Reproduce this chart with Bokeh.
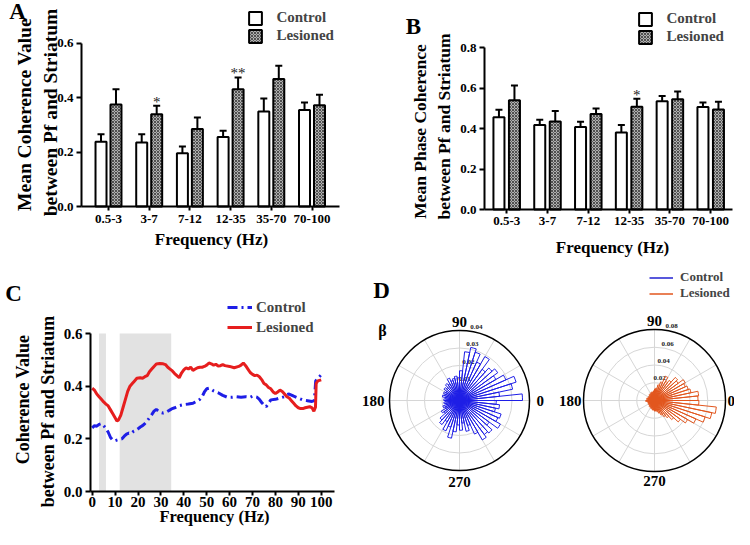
import numpy as np
from bokeh.plotting import figure
from bokeh.models import (Range1d, FixedTicker, Label, Legend, LegendItem,
                          Whisker, TeeHead, ColumnDataSource, NumeralTickFormatter)
from bokeh.layouts import row, column
from bokeh.embed import file_html
from bokeh.resources import INLINE
from bokeh.core.properties import value

SERIF = "Liberation Serif"

# ---------------- data ----------------
bands = ["0.5-3", "3-7", "7-12", "12-35", "35-70", "70-100"]

a_control = [0.238, 0.236, 0.196, 0.256, 0.350, 0.355]
a_control_sem = [0.028, 0.030, 0.025, 0.023, 0.048, 0.028]
a_lesioned = [0.375, 0.340, 0.285, 0.432, 0.469, 0.373]
a_lesioned_sem = [0.057, 0.031, 0.043, 0.043, 0.049, 0.038]
a_sig = ["", "*", "", "**", "", ""]
a_yticks = [0.0, 0.2, 0.4, 0.6]

b_control = [0.455, 0.417, 0.407, 0.380, 0.534, 0.506]
b_control_sem = [0.038, 0.026, 0.026, 0.037, 0.026, 0.023]
b_lesioned = [0.539, 0.435, 0.471, 0.507, 0.544, 0.494]
b_lesioned_sem = [0.073, 0.051, 0.028, 0.040, 0.039, 0.038]
b_sig = ["", "", "", "*", "", ""]
b_yticks = [0.0, 0.2, 0.4, 0.6, 0.8]

c_freq_control = [0, 1, 2, 3, 4, 5, 6, 7, 8, 9, 10, 11, 12, 13, 14, 15, 16, 17, 18, 19,
                  20, 21, 22, 23, 24, 25, 26, 27, 28, 29, 30, 31, 32, 33, 34, 35, 36, 37,
                  38, 40, 42, 44, 45, 46, 47, 48, 49, 50, 51, 52, 53, 55, 57, 59, 61, 63,
                  65, 67, 69, 70, 72, 73, 74, 75, 76, 77, 78, 80, 82, 84, 85, 86, 88, 90,
                  92, 94, 96, 97, 97.6, 98.5, 100]
c_control = [0.242, 0.250, 0.248, 0.255, 0.258, 0.250, 0.240, 0.225, 0.205, 0.195, 0.193,
             0.196, 0.198, 0.200, 0.210, 0.218, 0.222, 0.220, 0.228, 0.232, 0.238, 0.245,
             0.250, 0.258, 0.268, 0.280, 0.292, 0.305, 0.312, 0.305, 0.300, 0.298, 0.300,
             0.305, 0.310, 0.315, 0.318, 0.322, 0.326, 0.330, 0.332, 0.335, 0.340, 0.345,
             0.350, 0.360, 0.378, 0.390, 0.392, 0.388, 0.382, 0.375, 0.365, 0.358, 0.358,
             0.360, 0.358, 0.360, 0.358, 0.362, 0.358, 0.350, 0.338, 0.328, 0.322, 0.335,
             0.348, 0.350, 0.355, 0.360, 0.368, 0.370, 0.362, 0.355, 0.348, 0.345, 0.342,
             0.345, 0.420, 0.430, 0.443]

c_freq_lesioned = [0, 1, 2, 3, 4, 5, 6, 7, 8, 9, 10, 10.8, 11.5, 12.5, 13.5, 14.5, 15.5,
                   16.5, 17.5, 18.5, 19.5, 21, 22, 23, 24, 25, 26, 27, 28, 29.5, 31, 32,
                   33, 34, 35, 36, 37, 38, 39, 40, 41, 42, 43, 44, 45, 46, 47, 48, 49, 50,
                   51, 52, 53, 54, 55, 56, 57, 58, 60, 62, 64, 65, 66, 67, 68, 69, 70, 71,
                   72, 73, 74, 75, 76, 77, 78, 79, 80, 81, 82, 83, 84, 85, 86, 87, 88, 89,
                   90, 91, 92, 93, 94, 95, 96, 96.8, 97.5, 97.8, 98.5, 100]
c_lesioned = [0.392, 0.385, 0.370, 0.360, 0.350, 0.340, 0.332, 0.325, 0.310, 0.295, 0.280,
              0.268, 0.272, 0.290, 0.320, 0.350, 0.380, 0.400, 0.410, 0.420, 0.430, 0.432,
              0.430, 0.436, 0.440, 0.455, 0.465, 0.475, 0.484, 0.486, 0.485, 0.482, 0.472,
              0.465, 0.458, 0.448, 0.440, 0.432, 0.450, 0.462, 0.470, 0.465, 0.472, 0.460,
              0.465, 0.470, 0.472, 0.472, 0.475, 0.480, 0.488, 0.485, 0.480, 0.483, 0.477,
              0.478, 0.482, 0.478, 0.475, 0.470, 0.475, 0.480, 0.488, 0.478, 0.465, 0.452,
              0.445, 0.440, 0.442, 0.436, 0.425, 0.410, 0.405, 0.395, 0.390, 0.378, 0.372,
              0.378, 0.385, 0.380, 0.370, 0.360, 0.355, 0.345, 0.335, 0.325, 0.318, 0.315,
              0.315, 0.318, 0.320, 0.322, 0.318, 0.305, 0.320, 0.410, 0.420, 0.424]
c_shade_start = [3, 12]
c_shade_end = [6, 34.5]
c_yticks = [0.0, 0.2, 0.4, 0.6]
c_xticks = [0, 10, 20, 30, 40, 50, 60, 70, 80, 90, 100]

# polar histograms: 60 bins of 6 degrees, starting at 0 deg, counter-clockwise
d_control = [0.036, 0.023, 0.031, 0.034, 0.029, 0.024, 0.027, 0.025, 0.022, 0.029,
             0.024, 0.029, 0.031, 0.028, 0.017, 0.013, 0.014, 0.013, 0.012, 0.014,
             0.011, 0.012, 0.010, 0.011, 0.009, 0.010, 0.009, 0.010, 0.008, 0.009,
             0.008, 0.009, 0.008, 0.010, 0.009, 0.012, 0.011, 0.015, 0.017, 0.014,
             0.019, 0.016, 0.022, 0.018, 0.014, 0.017, 0.013, 0.018, 0.015, 0.021,
             0.026, 0.024, 0.025, 0.021, 0.027, 0.024, 0.025, 0.021, 0.023, 0.021]
d_lesioned = [0.049, 0.050, 0.042, 0.040, 0.038, 0.040, 0.033, 0.035, 0.028, 0.025,
              0.030, 0.022, 0.018, 0.014, 0.013, 0.011, 0.010, 0.009, 0.010, 0.009,
              0.008, 0.009, 0.008, 0.007, 0.008, 0.007, 0.008, 0.009, 0.007, 0.009,
              0.010, 0.008, 0.007, 0.008, 0.007, 0.008, 0.007, 0.008, 0.009, 0.008,
              0.009, 0.010, 0.009, 0.011, 0.010, 0.012, 0.011, 0.013, 0.015, 0.018,
              0.021, 0.024, 0.029, 0.036, 0.043, 0.051, 0.060, 0.066, 0.070, 0.050]
d_control_rings = [0.01, 0.02, 0.03, 0.04]
d_lesioned_rings = [0.02, 0.04, 0.06, 0.08]
d_angle_labels = ["0", "90", "180", "270"]

BLUE = "#1e1ee6"
RED = "#e61e1e"
ORANGE = "#e2561e"


class Geo:
    """Figure whose frame is the whole canvas; maps reference-pixel positions to data."""

    def __init__(self, ox, oy, W, H, xa, Xa, sx, ya, Ya, sy):
        self.ox, self.oy, self.W, self.H = ox, oy, W, H
        self.xa, self.Xa, self.sx = xa, Xa, sx
        self.ya, self.Ya, self.sy = ya, Ya, sy
        self.x0 = xa + (ox - Xa) / sx
        self.x1 = self.x0 + W / sx
        self.y0 = ya - (oy + H - Ya) / sy
        self.y1 = self.y0 + H / sy

    def fig(self):
        p = figure(width=self.W, height=self.H, output_backend="svg", toolbar_location=None,
                   x_range=Range1d(self.x0, self.x1), y_range=Range1d(self.y0, self.y1),
                   min_border_left=0, min_border_right=0, min_border_top=0,
                   min_border_bottom=0)
        p.outline_line_color = None
        p.xgrid.visible = False
        p.ygrid.visible = False
        return p

    def dx(self, X):
        return self.xa + (X - self.Xa) / self.sx

    def dy(self, Y):
        return self.ya + (self.Ya - Y) / self.sy

    def loc(self, X, Y):
        return (X - self.ox, self.oy + self.H - Y)


def text(p, g, X, Y, s, size, angle=0.0, align="center", baseline="middle", style="bold"):
    p.add_layout(Label(x=g.dx(X), y=g.dy(Y), text=s, text_font=SERIF,
                       text_font_size=f"{size}px", text_font_style=style, angle=angle,
                       text_align=align, text_baseline=baseline, text_color="black"))


def style_axis(ax, size, standoff, tick_out=5):
    ax.axis_line_width = 2
    ax.axis_line_color = "black"
    ax.major_tick_line_width = 2
    ax.major_tick_out = tick_out
    ax.major_tick_in = 0
    ax.minor_tick_out = 0
    ax.minor_tick_in = 0
    ax.major_label_text_font = SERIF
    ax.major_label_text_font_style = "bold"
    ax.major_label_text_font_size = f"{size}px"
    ax.major_label_text_color = "black"
    ax.major_label_standoff = standoff


def setup_axes(p, g, yticks, yaxis_X, xticks, xend_X, tick_size, xstand, ystand,
               overrides=None):
    yax = p.yaxis[0]
    yax.fixed_location = g.dx(yaxis_X)
    yax.ticker = FixedTicker(ticks=yticks)
    yax.bounds = (yticks[0], yticks[-1])
    yax.formatter = NumeralTickFormatter(format="0.0")
    style_axis(yax, tick_size, ystand)
    xax = p.xaxis[0]
    xax.fixed_location = yticks[0]
    xax.ticker = FixedTicker(ticks=xticks)
    if overrides:
        xax.major_label_overrides = overrides
    xax.bounds = (g.dx(yaxis_X), g.dx(xend_X))
    style_axis(xax, tick_size, xstand, tick_out=4)


def bar_panel(g, ctrl, ctrl_sem, les, les_sem, sig, yticks, off, bw, yaxis_X, xend_X,
              legend_xy, tick_size, xstand, ystand):
    p = g.fig()
    idx = np.arange(len(bands))
    src = ColumnDataSource(dict(
        xc=idx - off, xl=idx + off, c=ctrl, l=les,
        cu=np.add(ctrl, ctrl_sem), lu=np.add(les, les_sem), sig=sig))
    rc = p.vbar(x="xc", top="c", width=bw, bottom=0, source=src, fill_color="white",
                line_color="black", line_width=2)
    rl = p.vbar(x="xl", top="l", width=bw, bottom=0, source=src, fill_color="#b0b0b0",
                hatch_pattern="diagonal_cross", hatch_color="#505050", hatch_scale=3,
                hatch_weight=1, line_color="black", line_width=2)
    for base, lo, up in (("xc", "c", "cu"), ("xl", "l", "lu")):
        p.add_layout(Whisker(source=src, base=base, lower=lo, upper=up, dimension="height",
                             line_width=2, line_color="black",
                             upper_head=TeeHead(size=7, line_width=2, line_color="black"),
                             lower_head=None))
    p.text(x="xl", y="lu", text="sig", source=src, text_font=value(SERIF),
           text_font_size="15px", text_align="center", text_baseline="middle",
           y_offset=-4, text_color="#222222")
    setup_axes(p, g, yticks, yaxis_X, list(idx), xend_X, tick_size, xstand, ystand,
               overrides={int(i): b for i, b in enumerate(bands)})
    leg = Legend(items=[LegendItem(label="Control", renderers=[rc]),
                        LegendItem(label="Lesioned", renderers=[rl])],
                 location=legend_xy, glyph_width=16, glyph_height=16, label_height=16,
                 label_standoff=13, spacing=1, padding=0, margin=0,
                 border_line_color=None, background_fill_alpha=0,
                 label_text_font=SERIF, label_text_font_style="bold",
                 label_text_font_size="15px")
    p.add_layout(leg)
    return p


# ---------------- Panel A ----------------
gA = Geo(1, 1, 364, 260, 0, 109, 40.7, 0, 207, 271.67)
pA = bar_panel(gA, a_control, a_control_sem, a_lesioned, a_lesioned_sem, a_sig, a_yticks,
               0.184, 0.27, 82, 340, gA.loc(248.4, 45.4), 13, 4, 3)
text(pA, gA, 18, 12, "A", 23)
text(pA, gA, 25, 115, "Mean Coherence Value", 19.5, angle=np.pi / 2)
text(pA, gA, 51, 113, "between Pf and Striatum", 19.5, angle=np.pi / 2)
text(pA, gA, 212, 240, "Frequency (Hz)", 17)

# ---------------- Panel B ----------------
gB = Geo(365, 1, 370, 260, 0, 507.2, 40.8, 0, 210, 202.5)
pB = bar_panel(gB, b_control, b_control_sem, b_lesioned, b_lesioned_sem, b_sig, b_yticks,
               0.19, 0.27, 485, 733, gB.loc(638.4, 46.4), 13, 3, 3)
text(pB, gB, 414, 27, "B", 23)
text(pB, gB, 420, 132, "Mean Phase Coherence", 17.5, angle=np.pi / 2)
text(pB, gB, 444, 127, "between Pf and Striatum", 17.5, angle=np.pi / 2)
text(pB, gB, 613, 248, "Frequency (Hz)", 17)

# ---------------- Panel C ----------------
gC = Geo(1, 261, 347, 269, 0, 92.7, 2.29, 0, 492, 263.3)
pC = gC.fig()
pC.quad(left=c_shade_start, right=c_shade_end, bottom=c_yticks[0], top=c_yticks[-1],
        fill_color="#e2e2e2", line_color=None)
rcC = pC.line(c_freq_control, c_control, line_color=BLUE, line_width=3, line_dash="10 4 2 4")
rlC = pC.line(c_freq_lesioned, c_lesioned, line_color=RED, line_width=3)
setup_axes(pC, gC, c_yticks, 91, c_xticks, 335, 15, 1, 3)
pC.add_layout(Legend(items=[LegendItem(label="Control", renderers=[rcC]),
                            LegendItem(label="Lesioned", renderers=[rlC])],
                     location=gC.loc(228, 337), glyph_width=25, glyph_height=18,
                     label_height=18, label_standoff=4, spacing=2, padding=0, margin=0,
                     border_line_color=None, background_fill_alpha=0,
                     label_text_font=SERIF, label_text_font_style="bold",
                     label_text_font_size="15px"))
text(pC, gC, 14, 294, "C", 23)
text(pC, gC, 23, 400, "Coherence Value", 18, angle=np.pi / 2)
text(pC, gC, 48, 412, "between Pf and Striatum", 18, angle=np.pi / 2)
text(pC, gC, 215, 517, "Frequency (Hz)", 16.5)


# ---------------- Panel D ----------------
def polar(g, hist, rings, color, pad_px, lbl_pads):
    p = g.fig()
    p.xaxis.visible = False
    p.yaxis.visible = False
    R = rings[-1]
    n = len(hist)
    a0 = np.deg2rad(np.arange(n) * 360.0 / n)
    a1 = a0 + 2 * np.pi / n
    # grid
    p.circle(x=0, y=0, radius=rings[:-1], fill_color=None, line_color="#d6d6d6", line_width=1)
    sp = np.deg2rad(np.arange(0, 360, 30))
    p.segment(x0=0, y0=0, x1=R * np.cos(sp), y1=R * np.sin(sp), line_color="#d6d6d6",
              line_width=1)
    # radial labels
    th = np.deg2rad(77)
    rr = np.array(rings) + pad_px / g.sx
    p.text(x=rr * np.cos(th), y=rr * np.sin(th), text=[f"{r:.2f}" for r in rings],
           text_font=value(SERIF), text_font_size="7px", text_font_style="bold",
           text_align="center", text_baseline="middle", text_color="#222222")
    # histogram
    p.wedge(x=0, y=0, radius=hist, start_angle=a0, end_angle=a1, fill_color=None,
            line_color=color, line_width=1)
    p.circle(x=0, y=0, radius=R, fill_color=None, line_color="black", line_width=1.5)
    # angle labels
    e, n_, w, s = lbl_pads
    lab = dict(text_font=SERIF, text_font_size="15px", text_font_style="bold",
               text_color="black")
    p.add_layout(Label(x=R + e / g.sx, y=0, text=d_angle_labels[0], text_align="left",
                       text_baseline="middle", **lab))
    p.add_layout(Label(x=0, y=R + n_ / g.sy, text=d_angle_labels[1], text_align="center",
                       text_baseline="bottom", **lab))
    p.add_layout(Label(x=-R - w / g.sx, y=0, text=d_angle_labels[2], text_align="right",
                       text_baseline="middle", **lab))
    p.add_layout(Label(x=0, y=-R - s / g.sy, text=d_angle_labels[3], text_align="center",
                       text_baseline="top", **lab))
    return p


s1 = 70 / d_control_rings[-1]
gD1 = Geo(348, 261, 205, 269, 0, 460, s1, 0, 401, s1)
pD1 = polar(gD1, d_control, d_control_rings, BLUE, 5, (7, 4, 5, 6))
text(pD1, gD1, 382, 291, "D", 23)
text(pD1, gD1, 383, 331, "β", 16)

s2 = 71 / d_lesioned_rings[-1]
gD2 = Geo(553, 261, 182, 269, 0, 655, s2, 0, 401, s2)
pD2 = polar(gD2, d_lesioned, d_lesioned_rings, ORANGE, 5, (2, 4, 2, 4))
lc = pD2.line(x=[np.nan], y=[np.nan], line_color="#2020d0", line_width=1.5)
ll = pD2.line(x=[np.nan], y=[np.nan], line_color=ORANGE, line_width=1.5)
pD2.add_layout(Legend(items=[LegendItem(label="Control", renderers=[lc]),
                             LegendItem(label="Lesioned", renderers=[ll])],
                      location=gD2.loc(650, 302), glyph_width=24, glyph_height=13,
                      label_height=13, label_standoff=7, spacing=0, padding=0, margin=0,
                      border_line_color=None, background_fill_alpha=0,
                      label_text_font=SERIF, label_text_font_style="bold",
                      label_text_font_size="13px"))

layout = column(row(pA, pB), row(pC, pD1, pD2))
open("out.html", "w").write(file_html(layout, INLINE))
